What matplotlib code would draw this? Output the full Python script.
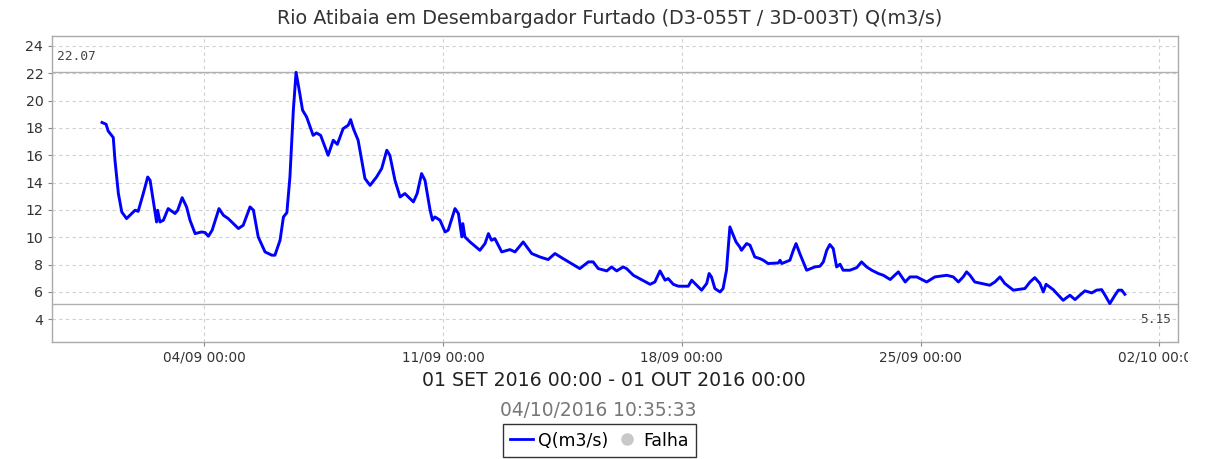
import numpy as np
import matplotlib
matplotlib.use('Agg')
import matplotlib.pyplot as plt
import matplotlib.dates as mdates
from matplotlib.lines import Line2D
from matplotlib.transforms import Bbox, TransformedBbox


title = 'Rio Atibaia em Desembargador Furtado (D3-055T / 3D-003T) Q(m3/s)'
period = '01 SET 2016 00:00 - 01 OUT 2016 00:00'
stamp = '04/10/2016 10:35:33'

start = np.datetime64('2016-09-01T00:00')

# days since 01/09 00:00, flow in m3/s
days = [
    0.00, 0.12, 0.18, 0.33, 0.38, 0.48, 0.58, 0.72, 0.87, 0.97, 1.06, 1.21,
    1.34, 1.41, 1.50, 1.60, 1.63, 1.70, 1.80, 1.94, 2.14, 2.22, 2.35, 2.48,
    2.58, 2.73, 2.92, 3.02, 3.12, 3.23, 3.43, 3.56, 3.70, 4.00, 4.14, 4.34,
    4.44, 4.58, 4.78, 4.98, 5.07, 5.22, 5.32, 5.42, 5.51, 5.61, 5.69, 5.80,
    5.88, 6.00, 6.19, 6.29, 6.41, 6.63, 6.78, 6.90, 7.07, 7.22, 7.29, 7.37,
    7.51, 7.71, 7.86, 8.05, 8.20, 8.35, 8.44, 8.59, 8.74, 8.88, 9.13, 9.24,
    9.37, 9.47, 9.62, 9.69, 9.76, 9.91, 10.06, 10.15, 10.35, 10.45, 10.55,
    10.58, 10.64, 10.79, 11.08, 11.23, 11.33, 11.42, 11.52, 11.72, 11.96,
    12.11, 12.35, 12.60, 12.84, 13.08, 13.28, 13.52, 14.01, 14.26, 14.40,
    14.55, 14.80, 14.94, 15.09, 15.28, 15.38, 15.58, 16.07, 16.21, 16.36,
    16.51, 16.60, 16.75, 16.90, 17.19, 17.29, 17.58, 17.73, 17.80, 17.87,
    17.97, 18.12, 18.21, 18.31, 18.41, 18.51, 18.59, 18.70, 18.75, 18.90,
    19.00, 19.14, 19.29, 19.39, 19.53, 19.83, 19.88, 19.93, 20.17, 20.27,
    20.35, 20.46, 20.66, 20.90, 21.05, 21.15, 21.25, 21.34, 21.44, 21.54,
    21.64, 21.73, 21.93, 22.13, 22.27, 22.42, 22.57, 22.76, 22.91, 23.11,
    23.35, 23.55, 23.69, 23.89, 24.18, 24.42, 24.77, 24.96, 25.11, 25.25,
    25.35, 25.45, 25.59, 25.79, 26.03, 26.18, 26.33, 26.47, 26.72, 27.06,
    27.21, 27.35, 27.50, 27.60, 27.68, 27.89, 28.18, 28.38, 28.53, 28.67,
    28.82, 29.02, 29.16, 29.31, 29.41, 29.55, 29.70, 29.80, 29.90, 29.99,
]
flow = [
    18.40, 18.27, 17.78, 17.30, 15.64, 13.20, 11.85, 11.37, 11.74, 11.98, 11.90, 13.20,
    14.41, 14.17, 12.71, 11.12, 11.98, 11.12, 11.25, 12.10, 11.74, 11.98, 12.90, 12.22,
    11.25, 10.27, 10.39, 10.35, 10.08, 10.52, 12.10, 11.61, 11.37, 10.64, 10.88, 12.22,
    11.98, 10.03, 8.93, 8.69, 8.69, 9.78, 11.49, 11.80, 14.41, 19.30, 22.07, 20.51,
    19.30, 18.80, 17.46, 17.63, 17.46, 16.00, 17.10, 16.80, 17.95, 18.20, 18.61, 17.95,
    17.10, 14.30, 13.80, 14.41, 15.03, 16.37, 16.00, 14.17, 12.95, 13.20, 12.59, 13.20,
    14.66, 14.17, 11.98, 11.25, 11.49, 11.25, 10.39, 10.52, 12.10, 11.74, 10.03,
    11.00, 10.03, 9.66, 9.05, 9.54, 10.27, 9.78, 9.90, 8.93, 9.10,
    8.93, 9.66, 8.81, 8.56, 8.37, 8.81, 8.44, 7.71, 8.20, 8.20,
    7.71, 7.54, 7.83, 7.54, 7.83, 7.71, 7.22, 6.56, 6.73, 7.54,
    6.86, 6.98, 6.56, 6.42, 6.42, 6.86, 6.13, 6.62, 7.35, 7.10,
    6.25, 6.00, 6.25, 7.59, 10.76, 10.15, 9.66, 9.29, 9.05, 9.54,
    9.42, 8.56, 8.44, 8.32, 8.08, 8.12, 8.32, 8.08, 8.32, 9.05,
    9.54, 8.81, 7.59, 7.83, 7.88, 8.20, 9.05, 9.47, 9.17, 7.83,
    8.03, 7.59, 7.59, 7.78, 8.20, 7.83, 7.59, 7.35, 7.22, 6.91,
    7.47, 6.73, 7.10, 7.10, 6.73, 7.10, 7.22, 7.10, 6.73, 7.10,
    7.47, 7.22, 6.73, 6.62, 6.49, 6.73, 7.10, 6.62, 6.13, 6.25,
    6.73, 7.05, 6.62, 6.00, 6.56, 6.17, 5.39, 5.76, 5.44, 5.76,
    6.08, 5.93, 6.13, 6.17, 5.76, 5.15, 5.76, 6.13, 6.13, 5.83,
]
q_max = 22.07
q_min = 5.15

x_ticks = ['2016-09-04', '2016-09-11', '2016-09-18', '2016-09-25', '2016-10-02']
y_ticks = [4, 6, 8, 10, 12, 14, 16, 18, 20, 22, 24]


def to_time(d):
    return start + (np.asarray(d) * 86400).astype('timedelta64[s]')


fig = plt.figure(figsize=(12.19, 4.59), dpi=100)
ax = fig.add_axes([51.7 / 1219, 1 - 341.7 / 459, 1126 / 1219, 306 / 459])

times = to_time(days)
ax.plot(times, flow, color='#0000ff', lw=2.1, zorder=3)

# max / min reference lines
ax.axhline(q_max, color='#b0b0b0', lw=1.0, zorder=2)
ax.axhline(q_min, color='#b0b0b0', lw=1.0, zorder=2)
ax.annotate(f'{q_max:.2f}', xy=(0, q_max), xycoords=('axes fraction', 'data'),
            xytext=(3.5, 6.5), textcoords='offset points', ha='left', va='bottom',
            family='DejaVu Sans Mono', fontsize=9.3, color='#444444')
ax.annotate(f'{q_min:.2f}', xy=(1, q_min), xycoords=('axes fraction', 'data'),
            xytext=(-4.5, -6.5), textcoords='offset points', ha='right', va='top',
            family='DejaVu Sans Mono', fontsize=9.3, color='#444444')

ax.set_xlim(to_time(-1.475), to_time(31.54))
ax.set_ylim(2.36, 24.75)
ax.set_xticks(to_time([(np.datetime64(t) - start) / np.timedelta64(1, 'D') for t in x_ticks]))
ax.xaxis.set_major_formatter(mdates.DateFormatter('%d/%m %H:%M'))
ax.set_yticks(y_ticks)

ax.grid(True, color='#d0d0d0', ls=(0, (3, 3)), lw=0.8)
for s in ax.spines.values():
    s.set_color('#aaaaaa')
    s.set_linewidth(1.0)
ax.tick_params(axis='both', colors='#888888', length=3, width=0.8,
               labelcolor='#333333', labelsize=9.8, pad=3)
ax.tick_params(axis='y', labelsize=10.2)

fig.text(0.5, 1 - 18 / 459, title, ha='center', va='center',
         fontsize=13.8, color='#333333')
fig.text(613.5 / 1219, 1 - 381 / 459, period, ha='center', va='center',
         fontsize=13.6, color='#222222')
fig.text(598.5 / 1219, 1 - 411 / 459, stamp, ha='center', va='center',
         fontsize=13.4, color='#777777')

handles = [
    Line2D([], [], color='#0000ff', lw=2),
    Line2D([], [], ls='none', marker='o', ms=8, mfc='#c8c8c8', mec='#c8c8c8'),
]
leg = fig.legend(handles, ['Q(m3/s)', 'Falha'], loc='center',
                 bbox_to_anchor=(599.5 / 1219, 1 - 440.5 / 459), ncol=2,
                 fontsize=12.5, frameon=True, fancybox=False, handlelength=1.3,
                 handletextpad=0.3, columnspacing=0.4, borderpad=0.45,
                 borderaxespad=0)
leg.get_frame().set_edgecolor('#000000')
leg.get_frame().set_linewidth(1.0)

# the last tick label is cut off at the right edge, as in the original
fig.canvas.draw()
clip = TransformedBbox(Bbox([[0, 0], [1188 / 1219, 1]]), fig.transFigure)
for lab in ax.get_xticklabels():
    lab.set_clip_box(clip)
    lab.set_clip_on(True)

fig.savefig('out.png', dpi=100)
